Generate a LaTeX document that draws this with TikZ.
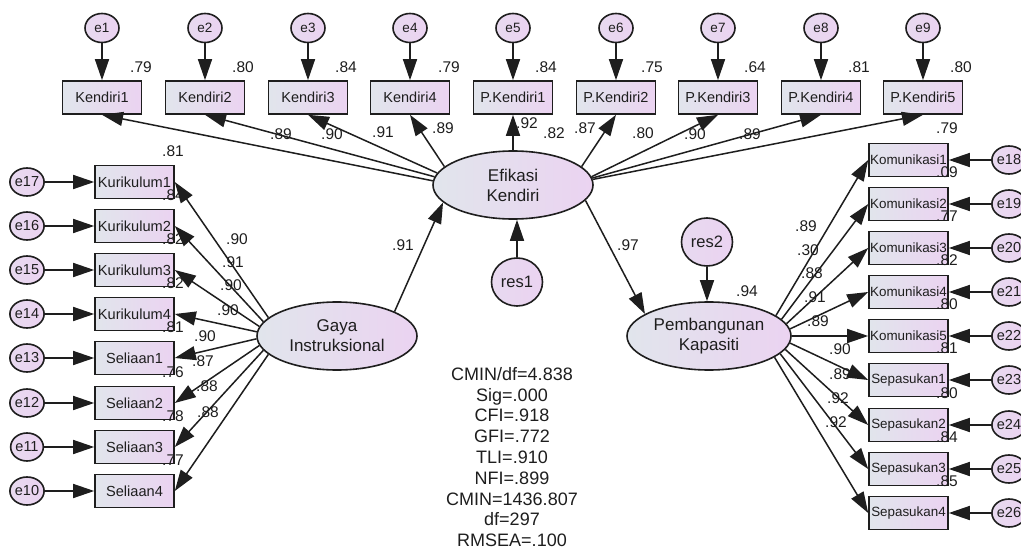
\documentclass[tikz,border=0pt]{standalone}
\usepackage{fontspec}
\setmainfont{Liberation Sans}
\usetikzlibrary{arrows.meta,shapes.geometric}
\definecolor{gA}{HTML}{E1E5EC}
\definecolor{gB}{HTML}{EBD3F1}
\definecolor{ink}{HTML}{1E1E1E}
\tikzset{
  indbox/.style={draw=ink, line width=1.6pt, minimum width=79pt, minimum height=33pt, inner sep=0pt,
    left color=gA, right color=gB, text=ink},
  errc/.style={ellipse, draw=ink, line width=1.6pt, inner sep=0pt,
    left color=gA!35!gB, right color=gB, text=ink},
  errtop/.style={errc, minimum width=34pt, minimum height=29pt, font=\fontsize{13.5}{14}\selectfont},
  errside/.style={errc, minimum width=32pt, minimum height=28pt, font=\fontsize{14.5}{15}\selectfont},
  resc/.style={errc, minimum width=51pt, minimum height=48pt, font=\fontsize{16.5}{17}\selectfont},
  latent/.style={ellipse, draw=ink, line width=1.6pt, inner sep=0pt, minimum width=160pt, minimum height=68pt,
    left color=gA, right color=gB, text=ink, align=center, font=\fontsize{17}{20}\selectfont},
  pth/.style={-{Triangle[length=21pt,width=14pt]}, line width=1.5pt, draw=ink, fill=ink},
  num/.style={inner sep=0pt, text=ink, font=\fontsize{15.5}{16}\selectfont},
}
\begin{document}
\begin{tikzpicture}[x=1pt,y=-1pt]
\fill[white] (0,0) rectangle (1021,551);
\useasboundingbox (0,0) rectangle (1021,551);

% latent variables
\node[latent] (efk) at (513,185) {Efikasi\\Kendiri};
\node[latent] (gaya) at (337,336) {Gaya\\Instruksional};
\node[latent, minimum width=164pt] (pemb) at (709,336) {Pembangunan\\Kapasiti};
\node[resc] (res1) at (517,282) {res1};
\node[resc] (res2) at (707,242) {res2};

\draw[pth] (res1.north) -- (res1.north |- efk.south);
\draw[pth] (res2.south) -- (res2.south |- pemb.north);
\draw[pth] (gaya.23) -- (efk.194);
\draw[pth] (efk.-12) -- (pemb.161);

\node[num] (lg) at (403,245) {.91};
\node[num] (lp) at (628,245) {.97};
\node[num] (rsq1) at (554,133) {.82};
\node[num] (rsq2) at (747,291) {.94};

% top row
\foreach \i/\x/\lab/\rv/\rx/\ang/\ld/\lx/\ly in {
  1/102/Kendiri1/.79/141/177/.89/281/134,
  2/205/Kendiri2/.80/243/174/.90/332/134,
  3/308/Kendiri3/.84/346/171/.91/383/132,
  4/410/Kendiri4/.79/449/165/.89/443/128,
  5/513/P.Kendiri1/.84/546/90/.92/527/123,
  6/616/P.Kendiri2/.75/652/15/.87/585/128,
  7/718/P.Kendiri3/.64/755/6/.80/643/133,
  8/821/P.Kendiri4/.81/859/5/.90/695/134,
  9/923/P.Kendiri5/.80/961/4/.89/750/134}
{
  \node[indbox, font=\fontsize{14.5}{15}\selectfont] (t\i) at (\x,97.5) {\lab};
  \node[errtop] (e\i) at (\x,28) {e\i};
  \node[num] (rt\i) at (\rx,67) {\rv};
  \draw[pth] (e\i) -- (t\i);
  \draw[pth] (efk.\ang) -- (t\i.south);
  \node[num] (lt\i) at (\lx,\ly) {\ld};
}

% left column
\foreach \i/\y/\lab/\en/\rv/\ld/\lx/\ly/\ang in {
  1/182/Kurikulum1/17/.81/.90/237/239/165,
  2/226/Kurikulum2/16/.84/.91/233/262/169,
  3/270/Kurikulum3/15/.82/.90/231/285/173,
  4/314/Kurikulum4/14/.82/.90/228/310/177,
  5/358/Seliaan1/13/.81/.90/205/336/182,
  6/403/Seliaan2/12/.76/.87/203/361/187,
  7/447/Seliaan3/11/.78/.88/207/386/191,
  8/491/Seliaan4/10/.77/.88/208/412/195}
{
  \node[indbox, font=\fontsize{14.6}{15}\selectfont] (L\i) at (134.5,\y) {\lab};
  \node[errside] (e\en) at (27,\y) {e\en};
  \draw[pth] (e\en) -- (L\i);
  \draw[pth] (gaya.\ang) -- (L\i.east);
  \node[num] (rl\i) at (173,\y-31) {\rv};
  \node[num] (ll\i) at (\lx,\ly) {\ld};
}

% right column
\foreach \i/\y/\lab/\en/\rv/\ld/\lx/\ly/\ang in {
  1/160/Komunikasi1/18/.79/.89/806/226/17,
  2/204/Komunikasi2/19/.09/.30/808/250/13,
  3/248/Komunikasi3/20/.77/.88/812/273/9,
  4/292/Komunikasi4/21/.82/.91/815/297/5,
  5/336/Komunikasi5/22/.80/.89/818/321/0,
  6/380/Sepasukan1/23/.81/.90/840/349/-5,
  7/425/Sepasukan2/24/.80/.89/840/374/-10,
  8/469/Sepasukan3/25/.84/.92/838/398/-14,
  9/513/Sepasukan4/26/.85/.92/836/422/-18}
{
  \node[indbox, font=\fontsize{13.4}{14}\selectfont] (R\i) at (908.5,\y) {\lab};
  \node[errside] (e\en) at (1009,\y) {e\en};
  \draw[pth] (e\en) -- (R\i);
  \draw[pth] (pemb.\ang) -- (R\i.west);
  \node[num] (rr\i) at (947,\y-32) {\rv};
  \node[num] (lr\i) at (\lx,\ly) {\ld};
}

% fit indices
\node[inner sep=0pt, align=center, text=ink, font=\fontsize{18}{20.8}\selectfont] (fit) at (512,457)
  {CMIN/df=4.838\\Sig=.000\\CFI=.918\\GFI=.772\\TLI=.910\\NFI=.899\\CMIN=1436.807\\df=297\\RMSEA=.100};
\end{tikzpicture}
\end{document}
